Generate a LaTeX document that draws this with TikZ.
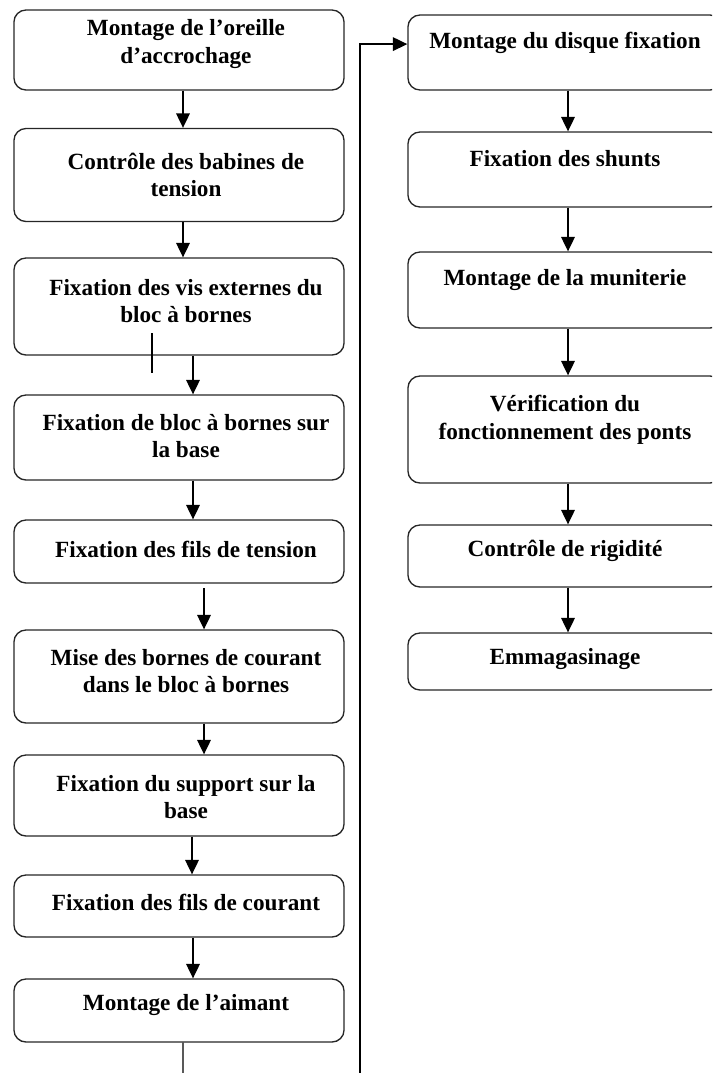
\documentclass[tikz,border=0pt]{standalone}
\usepackage{fontspec}
\setmainfont{Liberation Serif}
\usepackage{tikz}
\usetikzlibrary{arrows.meta}

\tikzset{
    stepbox/.style={draw=black!85, line width=0.95pt, rounded corners=0.3cm, fill=none},
    leftbox/.style={stepbox, minimum width=8.25cm},
    rightbox/.style={stepbox, minimum width=7.85cm},
    steptext/.style={align=center, inner sep=0pt, font=\fontsize{16.5}{19.5}\selectfont\bfseries},
    arr/.style={-{Triangle[length=3.6mm, width=3.4mm]}, line width=1pt}
}

\begin{document}
\begin{tikzpicture}[x=0.025cm, y=-0.025cm]
            \pgfmathsetmacro{\leftCol}{179}
            \pgfmathsetmacro{\leftText}{186}
            \pgfmathsetmacro{\rightCol}{565}

            \useasboundingbox (0, 0) rectangle (712, 1073);
            \clip (0, 0) rectangle (712, 1073);

            % left column
            \node[leftbox, minimum height=2cm] (l1) at (\leftCol, 50) {};
            \node[steptext] (t1) at (\leftText, 44) {Montage de l'oreille\\d'accrochage};
            \node[leftbox, minimum height=2.325cm] (l2) at (\leftCol, 175) {};
            \node[steptext] (t2) at (\leftText, 175) {Contrôle des babines de\\tension};
            \node[leftbox, minimum height=2.425cm] (l3) at (\leftCol, 306.5) {};
            \node[steptext] (t3) at (\leftText, 301) {Fixation des vis externes du\\bloc à bornes};
            \node[leftbox, minimum height=2.125cm] (l4) at (\leftCol, 437.5) {};
            \node[steptext] (t4) at (\leftText, 436) {Fixation de bloc à bornes sur\\la base};
            \node[leftbox, minimum height=1.575cm] (l5) at (\leftCol, 551.5) {};
            \node[steptext] (t5) at (\leftText, 549) {Fixation des fils de tension};
            \node[leftbox, minimum height=2.325cm] (l6) at (\leftCol, 676.5) {};
            \node[steptext] (t6) at (\leftText, 671) {Mise des bornes de courant\\dans le bloc à bornes};
            \node[leftbox, minimum height=2.025cm] (l7) at (\leftCol, 795.5) {};
            \node[steptext] (t7) at (\leftText, 797) {Fixation du support sur la\\base};
            \node[leftbox, minimum height=1.55cm] (l8) at (\leftCol, 906) {};
            \node[steptext] (t8) at (\leftText, 902) {Fixation des fils de courant};
            \node[leftbox, minimum height=1.575cm] (l9) at (\leftCol, 1010.5) {};
            \node[steptext] (t9) at (\leftText, 1005) {Montage de l'aimant};

            % right column
            \node[rightbox, minimum height=1.875cm] (r1) at (\rightCol, 52.5) {};
            \node[steptext] (s1) at (\rightCol, 43) {Montage du disque fixation};
            \node[rightbox, minimum height=1.875cm] (r2) at (\rightCol, 169.5) {};
            \node[steptext] (s2) at (\rightCol, 159) {Fixation des shunts};
            \node[rightbox, minimum height=1.9cm] (r3) at (\rightCol, 290) {};
            \node[steptext] (s3) at (\rightCol, 280) {Montage de la muniterie};
            \node[rightbox, minimum height=2.675cm] (r4) at (\rightCol, 429.5) {};
            \node[steptext] (s4) at (\rightCol, 420) {Vérification du\\fonctionnement des ponts};
            \node[rightbox, minimum height=1.55cm] (r5) at (\rightCol, 556) {};
            \node[steptext] (s5) at (\rightCol, 551) {Contrôle de rigidité};
            \node[rightbox, minimum height=1.425cm] (r6) at (\rightCol, 661.5) {};
            \node[steptext] (s6) at (\rightCol, 659) {Emmagasinage};

            % arrows down the left column
            \draw[arr] ([xshift=0.1cm]l1.south) -- ([xshift=0.1cm]l2.north);
            \draw[arr] ([xshift=0.1cm]l2.south) -- ([xshift=0.1cm]l3.north);
            \draw[arr] ([xshift=0.35cm]l3.south) -- ([xshift=0.35cm]l4.north);
            \draw[arr] ([xshift=0.35cm]l4.south) -- ([xshift=0.35cm]l5.north);
            \draw[arr, shorten <=0.12cm] ([xshift=0.625cm]l5.south) -- ([xshift=0.625cm]l6.north);
            \draw[arr] ([xshift=0.625cm]l6.south) -- ([xshift=0.625cm]l7.north);
            \draw[arr] ([xshift=0.325cm]l7.south) -- ([xshift=0.325cm]l8.north);
            \draw[arr] ([xshift=0.35cm]l8.south) -- ([xshift=0.35cm]l9.north);

            % stray tick under the third box
            \coordinate (tickA) at (152, 333);
            \coordinate (tickB) at (152, 373);
            \draw[line width=0.9pt] (tickA) -- (tickB);

            % arrows down the right column
            \foreach \i/\j in {1/2, 2/3, 3/4, 4/5, 5/6}
            \draw[arr] ([xshift=0.075cm]r\i.south) -- ([xshift=0.075cm]r\j.north);

            % link from the bottom of the left column to the top of the right one
            \coordinate (down) at (183, 1073);
            \coordinate (up) at (360, 1073);
            \draw[line width=1pt] ([xshift=0.1cm]l9.south) -- (down);
            \draw[arr] (up) |- ([yshift=0.21cm]r1.west);

\end{tikzpicture}
\end{document}
